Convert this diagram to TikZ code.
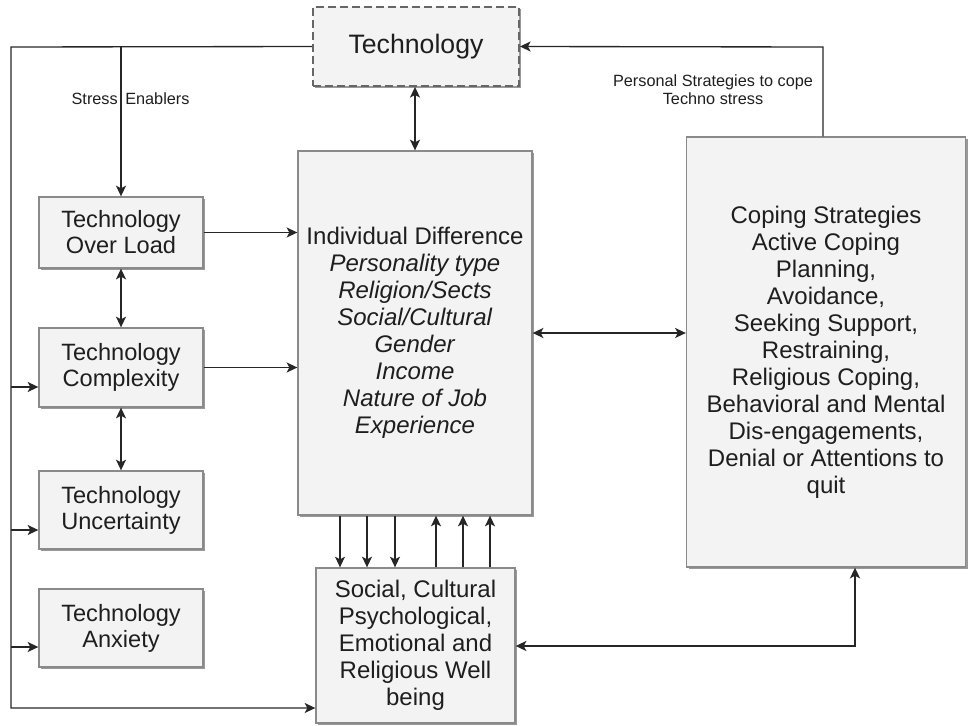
\documentclass[tikz,border=0pt]{standalone}
\usepackage{fontspec}
\setmainfont{Liberation Sans}
\usetikzlibrary{arrows.meta,shadows}
\definecolor{boxfill}{HTML}{F3F3F3}
\definecolor{boxline}{HTML}{8A8A8A}
\definecolor{ink}{HTML}{1E1E1E}
\definecolor{wire}{HTML}{262626}
\tikzset{
  box/.style={draw=boxline, fill=boxfill, line width=1pt, text=ink, align=center,
    inner sep=0pt, font=\fontsize{18}{20.25}\selectfont,
    drop shadow={shadow xshift=1.5pt, shadow yshift=-1.5pt, fill=black!40, opacity=1}},
  smallbox/.style={box, font=\fontsize{17.7}{19.5}\selectfont},
  techbox/.style={box, draw=black!60, dash pattern=on 6pt off 3pt, line width=1.4pt,
    font=\fontsize{20}{22}\selectfont},
  arr/.style={draw=wire, line width=1pt, -{Stealth[length=8pt,width=7.5pt,inset=2pt]}},
  arrboth/.style={draw=wire, line width=1pt, {Stealth[length=8pt,width=7.5pt,inset=2pt]}-{Stealth[length=8pt,width=7.5pt,inset=2pt]}},
  lbl/.style={text=ink, inner sep=0pt, font=\fontsize{12.2}{13.5}\selectfont, align=center}
}
\begin{document}
\begin{tikzpicture}[x=0.75pt,y=-0.75pt]
\useasboundingbox (0,0) rectangle (971,725);

% nodes
\node[techbox, minimum width=154.5pt, minimum height=59.25pt] (tech) at (416,46.5) {Technology};
\node[smallbox, minimum width=123pt, minimum height=53.25pt] (ol) at (121,232.5) {Technology\\Over Load};
\node[smallbox, minimum width=123pt, minimum height=59.25pt] (cx) at (121,367.5) {Technology\\Complexity};
\node[smallbox, minimum width=123pt, minimum height=58.5pt] (un) at (121,510) {Technology\\Uncertainty};
\node[smallbox, minimum width=123pt, minimum height=58.5pt] (an) at (121,628) {Technology\\Anxiety};
\node[box, minimum width=175.5pt, minimum height=273pt] (ind) at (415,333)
  {Individual Difference\\\textit{Personality type}\\\textit{Religion/Sects}\\\textit{Social/Cultural}\\\textit{Gender}\\\textit{Income}\\\textit{Nature of Job}\\\textit{Experience}};
\node[box, minimum width=209.25pt, minimum height=322.5pt] (cop) at (826,352)
  {Coping Strategies\\Active Coping\\Planning,\\Avoidance,\\Seeking Support,\\Restraining,\\Religious Coping,\\Behavioral and Mental\\Dis-engagements,\\Denial or Attentions to\\quit};
\node[box, minimum width=149.25pt, minimum height=116.25pt] (soc) at (415.5,645.5)
  {Social, Cultural\\Psychological,\\Emotional and\\Religious Well\\being};

% labels
\node[lbl, anchor=east] (lstress) at (118,99) {Stress};
\node[lbl, anchor=west] (lenab) at (125,99) {Enablers};
\node[lbl] (lpers) at (713,90) {Personal Strategies to cope\\Techno stress};

% coordinates
\coordinate (tl) at (11,47);
\coordinate (bl) at (11,708);
\coordinate (se) at (121,47);
\coordinate (c2) at (11,387);
\coordinate (c3) at (11,530);
\coordinate (c4) at (11,647);
\coordinate (tr) at (823,47);
\coordinate (br) at (855,646);

% left feedback loop
\draw[arr] (tech.west) -- (tl) -- (bl) -- (soc.west |- bl);
\draw[arr] (se) -- (ol.north);
\draw[arr] (c2) -- (c2 -| cx.west);
\draw[arr] (c3) -- (c3 -| un.west);
\draw[arr] (c4) -- (c4 -| an.west);

% stressors to individual
\draw[arr] (ol.east) -- (ol.east -| ind.west);
\draw[arr] (cx.east) -- (cx.east -| ind.west);
\draw[arrboth] (ol.south) -- (cx.north);
\draw[arrboth] (cx.south) -- (un.north);

% technology <-> individual
\draw[arrboth] (tech.south -| ind.north) -- (ind.north);

% individual <-> coping
\draw[arrboth, line width=1.3pt] (ind.east) -- (ind.east -| cop.west);

% individual <-> social
\foreach \xx in {340,367,395} \draw[arr] (ind.south -| \xx,0) -- (soc.north -| \xx,0);
\foreach \xx in {436,463,490} \draw[arr] (soc.north -| \xx,0) -- (ind.south -| \xx,0);

% social <-> coping
\draw[arrboth, line width=1.6pt] (cop.south -| br) -- (br) -- (br -| soc.east);

% coping -> technology
\draw[arr] (cop.north -| tr) -- (tr) -- (tech.east);
\end{tikzpicture}
\end{document}
